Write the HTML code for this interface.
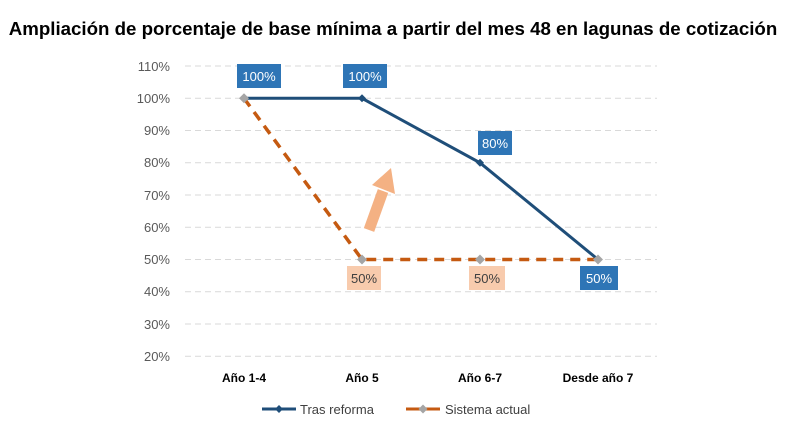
<!DOCTYPE html>
<html><head><meta charset="utf-8"><style>
body{margin:0;background:#fff;width:786px;height:430px;overflow:hidden}
svg{font-family:"Liberation Sans",Calibri,sans-serif}
</style></head><body>
<svg width="786" height="430" viewBox="0 0 786 430">
<text x="393" y="35" text-anchor="middle" font-size="18.7" font-weight="bold" fill="#000">Ampliación de porcentaje de base mínima a partir del mes 48 en lagunas de cotización</text>
<g stroke="#d9d9d9" stroke-dasharray="6,4" stroke-width="1">
<line x1="185" x2="657" y1="66" y2="66"/><line x1="185" x2="657" y1="98.3" y2="98.3"/>
<line x1="185" x2="657" y1="130.5" y2="130.5"/><line x1="185" x2="657" y1="162.8" y2="162.8"/>
<line x1="185" x2="657" y1="195" y2="195"/><line x1="185" x2="657" y1="227.3" y2="227.3"/>
<line x1="185" x2="657" y1="259.5" y2="259.5"/><line x1="185" x2="657" y1="291.8" y2="291.8"/>
<line x1="185" x2="657" y1="324" y2="324"/><line x1="185" x2="657" y1="356.3" y2="356.3"/>
</g>
<g font-size="13" fill="#595959" text-anchor="end">
<text x="170" y="71">110%</text><text x="170" y="103">100%</text><text x="170" y="135">90%</text>
<text x="170" y="167">80%</text><text x="170" y="200">70%</text><text x="170" y="232">60%</text>
<text x="170" y="264">50%</text><text x="170" y="296">40%</text><text x="170" y="329">30%</text>
<text x="170" y="361">20%</text></g>
<g font-size="12" font-weight="bold" fill="#000" text-anchor="middle">
<text x="244" y="382">Año 1-4</text><text x="362" y="382">Año 5</text><text x="480" y="382">Año 6-7</text><text x="598" y="382">Desde año 7</text></g>
<polyline points="244,98.3 362,98.3 480,162.8 598,259.5" fill="none" stroke="#1f4e79" stroke-width="3"/>
<polyline points="244,98.3 362,259.5 598,259.5" fill="none" stroke="#c55a11" stroke-width="3.5" stroke-dasharray="10,7"/>
<g fill="#1f4e79"><path d="M362 94.3l4 4-4 4-4-4z"/><path d="M480 158.8l4 4-4 4-4-4z"/></g>
<g fill="#a5a5a5"><path d="M244 93.3l5 5-5 5-5-5z"/><path d="M362 254.5l5 5-5 5-5-5z"/><path d="M480 254.5l5 5-5 5-5-5z"/><path d="M598 254.5l5 5-5 5-5-5z"/></g>
<line x1="369" y1="230" x2="383" y2="191" stroke="#f4b183" stroke-width="11"/>
<path d="M372 185 L391 168 L395 194 Z" fill="#f4b183"/>
<g fill="#2e75b6"><rect x="237" y="64" width="44" height="24"/><rect x="343" y="64" width="44" height="24"/><rect x="478" y="131" width="34" height="24"/><rect x="580" y="266" width="38" height="24"/></g>
<g fill="#f8cbad"><rect x="347" y="266" width="34" height="24"/><rect x="469" y="266" width="36" height="24"/></g>
<g font-size="13" text-anchor="middle"><g fill="#fff">
<text x="259" y="81">100%</text><text x="365" y="81">100%</text><text x="495" y="148">80%</text><text x="599" y="283">50%</text></g>
<g fill="#404040"><text x="364" y="283">50%</text><text x="487" y="283">50%</text></g></g>
<line x1="262" y1="409" x2="296" y2="409" stroke="#1f4e79" stroke-width="3"/><path d="M279 405l4 4-4 4-4-4z" fill="#1f4e79"/>
<text x="300" y="414" font-size="13" fill="#404040">Tras reforma</text>
<line x1="406" y1="409" x2="440" y2="409" stroke="#c55a11" stroke-width="3"/><path d="M423 404.5l4.5 4.5-4.5 4.5-4.5-4.5z" fill="#a5a5a5"/>
<text x="445" y="414" font-size="13" fill="#404040">Sistema actual</text>
</svg>
</body></html>
